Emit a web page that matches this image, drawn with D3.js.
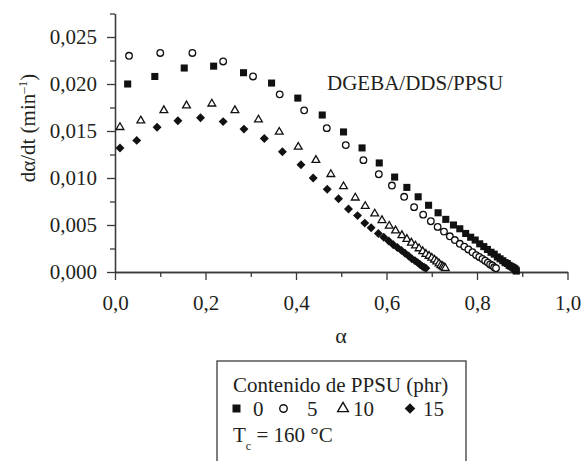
<!DOCTYPE html>
<html>
<head>
<meta charset="utf-8">
<script src="https://cdn.jsdelivr.net/npm/d3@7"></script>
</head>
<body style="margin:0">
<svg id="chart" width="582" height="461"></svg>
<script>
// values (alpha, d alpha/dt)
var alpha0 = [0.028,0.088,0.153,0.218,0.284,0.346,0.404,0.458,0.505,0.546,0.584,0.618,0.645,0.670,0.693,0.714,0.731,0.748,0.762,0.775,0.786,0.796,0.806,0.815,0.823,0.831,0.838,0.845,0.851,0.857,0.862,0.867,0.871,0.875,0.879,0.882,0.884,0.886,0.887];
var rate0  = [0.0200,0.0208,0.0217,0.0219,0.0212,0.0201,0.0185,0.0167,0.0149,0.0132,0.0116,0.0101,0.0090,0.0080,0.0071,0.0063,0.0056,0.0050,0.0046,0.0041,0.0037,0.0034,0.0030,0.0027,0.0024,0.0021,0.0019,0.0016,0.0014,0.0012,0.0010,0.0009,0.0007,0.0006,0.0005,0.0004,0.0003,0.0002,0.0001];

var alpha5 = [0.031,0.100,0.171,0.239,0.305,0.364,0.418,0.468,0.510,0.549,0.583,0.612,0.639,0.661,0.681,0.698,0.713,0.727,0.740,0.751,0.762,0.772,0.781,0.790,0.798,0.805,0.812,0.818,0.824,0.829,0.834,0.838,0.842];
var rate5  = [0.0230,0.0233,0.0233,0.0224,0.0208,0.0189,0.0172,0.0153,0.0135,0.0119,0.0104,0.0092,0.0080,0.0069,0.0061,0.0054,0.0048,0.0043,0.0038,0.0034,0.0030,0.0027,0.0024,0.0021,0.0018,0.0016,0.0014,0.0012,0.0010,0.0008,0.0007,0.0005,0.0004];

var alpha10 = [0.011,0.057,0.108,0.158,0.214,0.265,0.317,0.363,0.405,0.444,0.477,0.505,0.531,0.553,0.574,0.590,0.606,0.620,0.634,0.645,0.655,0.664,0.672,0.680,0.687,0.694,0.700,0.706,0.711,0.716,0.720,0.724,0.727,0.730];
var rate10  = [0.0154,0.0161,0.0172,0.0177,0.0179,0.0172,0.0162,0.0149,0.0133,0.0119,0.0104,0.0091,0.0079,0.0070,0.0062,0.0055,0.0049,0.0044,0.0039,0.0035,0.0031,0.0028,0.0025,0.0022,0.0019,0.0017,0.0015,0.0013,0.0011,0.0009,0.0007,0.0006,0.0005,0.0004];

var alpha15 = [0.011,0.048,0.093,0.139,0.189,0.239,0.285,0.330,0.370,0.411,0.438,0.469,0.494,0.516,0.536,0.552,0.566,0.582,0.594,0.605,0.615,0.624,0.633,0.641,0.649,0.656,0.663,0.669,0.674,0.679,0.683,0.687];
var rate15  = [0.0132,0.0140,0.0154,0.0161,0.0164,0.0160,0.0152,0.0142,0.0128,0.0114,0.0100,0.0088,0.0078,0.0067,0.0060,0.0052,0.0047,0.0041,0.0037,0.0033,0.0029,0.0026,0.0023,0.0020,0.0017,0.0014,0.0012,0.0010,0.0008,0.0006,0.0005,0.0004];

var contents = ['0', '5', '10', '15'];
var xTicks = [0, 0.2, 0.4, 0.6, 0.8, 1.0];
var xMinor = [0.1, 0.3, 0.5, 0.7, 0.9];
var yTicks = [0, 0.005, 0.010, 0.015, 0.020, 0.025];
var yMinor = [0.0025, 0.0075, 0.0125, 0.0175, 0.0225, 0.0275];

var INK = '#231f20';
var AXIS = '#3a3a3a';
var svg = d3.select('#chart');
var x = d3.scaleLinear().domain([0, 1]).range([115, 567.5]);
var y = d3.scaleLinear().domain([0, 0.0275]).range([272, 13.5]);

var comma = function (f) { return function (d) { return d3.format(f)(d).replace('.', ','); }; };

function serif(sel, size) {
  return sel.style('font-family', function () { return "'Liberation Serif'"; })
    .attr('font-size', size).attr('fill', INK);
}
function inkAxis(g) {
  g.attr('font-family', null).attr('font-size', null);
  g.selectAll('path, line').attr('stroke', AXIS).attr('stroke-width', 1.3);
  return g;
}

// minor ticks first
inkAxis(svg.append('g').attr('transform', 'translate(0,272)')
  .call(d3.axisBottom(x).tickValues(xMinor).tickSize(5).tickSizeOuter(0).tickFormat('')));
inkAxis(svg.append('g').attr('transform', 'translate(115,0)')
  .call(d3.axisLeft(y).tickValues(yMinor).tickSize(5).tickSizeOuter(0).tickFormat('')));

var gx = inkAxis(svg.append('g').attr('transform', 'translate(0,272)')
  .call(d3.axisBottom(x).tickValues(xTicks).tickSize(8).tickSizeOuter(0).tickPadding(15).tickFormat(comma('.1f'))));
serif(gx.selectAll('text'), 21);
var gy = inkAxis(svg.append('g').attr('transform', 'translate(115,0)')
  .call(d3.axisLeft(y).tickValues(yTicks).tickSize(8).tickSizeOuter(0).tickPadding(10).tickFormat(comma('.3f'))));
serif(gy.selectAll('text'), 21);

var series = [
  { xs: alpha0, ys: rate0, type: d3.symbolSquare, size: 50, fill: '#111', stroke: 'none', rot: 0 },
  { xs: alpha5, ys: rate5, type: d3.symbolCircle, size: 34, fill: '#fff', stroke: '#111', rot: 0 },
  { xs: alpha10, ys: rate10, type: d3.symbolTriangle, size: 26, fill: '#fff', stroke: '#111', rot: 0 },
  { xs: alpha15, ys: rate15, type: d3.symbolSquare, size: 40, fill: '#111', stroke: 'none', rot: 45 }
];

series.forEach(function (s) {
  var pts = s.xs.map(function (a, i) { return [a, s.ys[i]]; });
  svg.append('g').selectAll('path').data(pts).join('path')
    .attr('d', d3.symbol().type(s.type).size(s.size))
    .attr('transform', function (d) { return 'translate(' + x(d[0]) + ',' + y(d[1]) + ') rotate(' + s.rot + ')'; })
    .attr('fill', s.fill)
    .attr('stroke', s.stroke)
    .attr('stroke-width', 1.3);
});

// plain text nodes, same way the font test drew them
var notes = [
  { t: 'DGEBA/DDS/PPSU', x: 327, y: 90, s: 21, a: 'start' },
  { t: 'α', x: 341, y: 343, s: 22, a: 'middle' },
  { t: 'Contenido de PPSU (phr)', x: 233, y: 392, s: 21, a: 'start' }
];
svg.selectAll('text.note').data(notes).join('text').attr('class', 'note')
  .attr('x', function (d) { return d.x; }).attr('y', function (d) { return d.y; })
  .attr('font-size', function (d) { return d.s; })
  .attr('text-anchor', function (d) { return d.a; })
  .attr('fill', INK)
  .style('font-family', function () { return "'Liberation Serif'"; })
  .text(function (d) { return d.t; });

var yl = serif(svg.append('text').attr('transform', 'translate(35,128) rotate(-90)')
  .attr('text-anchor', 'middle'), 21);
yl.append('tspan').text('dα/dt (min');
yl.append('tspan').attr('font-size', 13).attr('dy', -8).text('–1');
yl.append('tspan').attr('dy', 8).text(')');

// legend box
var lg = svg.append('g');
lg.append('rect').attr('x', 217).attr('y', 361).attr('width', 249).attr('height', 130)
  .attr('fill', 'none').attr('stroke', AXIS).attr('stroke-width', 1.3);

var keyX = [236.5, 283.5, 343, 410];
var labX = [253, 307, 353, 423];
var keySize = [64, 44, 50, 56];
contents.forEach(function (c, i) {
  var s = series[i];
  lg.append('path')
    .attr('d', d3.symbol().type(s.type).size(keySize[i]))
    .attr('transform', 'translate(' + keyX[i] + ',408.5) rotate(' + s.rot + ')')
    .attr('fill', s.fill).attr('stroke', s.stroke).attr('stroke-width', 1.4);
  serif(lg.append('text').attr('x', labX[i]).attr('y', 416), 21).text(c);
});

var tc = serif(lg.append('text').attr('x', 233).attr('y', 442), 21);
tc.append('tspan').text('T');
tc.append('tspan').attr('font-size', 12).attr('dy', 8).text('c');
tc.append('tspan').attr('dy', -8).text(' = 160 °C');
</script>
</body>
</html>
